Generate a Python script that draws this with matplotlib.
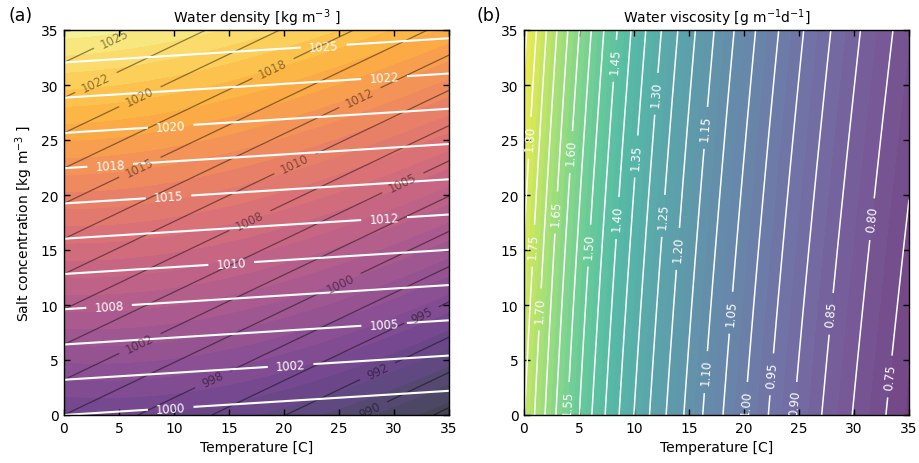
import numpy as np
import matplotlib
matplotlib.use('Agg')
import matplotlib.pyplot as plt
from matplotlib.colors import ListedColormap

# ---------------- data / model coefficients -------------
temp_limits = [0, 35]          # Temperature [C]
salt_limits = [0, 35]          # Salt concentration [kg m-3]
axis_ticks = [0, 5, 10, 15, 20, 25, 30, 35]

# filled density field (UNESCO-like equation of state)
rho_pure_coef = [999.842594, 6.793952e-2, -9.095290e-3, 1.001685e-4, -1.120083e-6, 6.536332e-9]
rho_salt_lin = [0.824493, -4.0899e-3, 7.6438e-5]
rho_salt_15 = [-5.72466e-3, 1.0227e-4, -1.6546e-6]
rho_salt_2 = 4.8314e-4

# white (linear) density model
white_rho0, white_dS, white_dT = 1000.0, 0.78, -0.049
# black (linear) density model
black_rho0, black_dS, black_dT = 1000.0, 0.78, -0.372

density_fill_levels = np.arange(992.5, 1030.01, 1.25)
density_line_levels = np.arange(987.5, 1030.01, 2.5)

white_label_levels = [1000, 1002.5, 1005, 1007.5, 1010, 1012.5, 1015, 1017.5, 1020, 1022.5, 1025]
white_label_temps = [9.7, 20.6, 29.1, 4.1, 15.2, 29.1, 9.5, 4.2, 9.7, 29.1, 23.6]

black_label_levels = [990, 992.5, 995, 997.5, 1000, 1002.5, 1005, 1007.5, 1010, 1012.5,
                      1015, 1017.5, 1020, 1022.5, 1025]
black_label_temps = [27.8, 28.5, 32.5, 13.5, 25.1, 6.9, 30.8, 16.9, 21.0, 26.9,
                     6.9, 19.0, 6.9, 2.9, 4.6]

# viscosity: Vogel pure water + salt factor
vogel_A, vogel_B, vogel_C = 2.414e-2, 247.8, 133.15
visc_salt_A = [1.541, 1.998e-2, -9.52e-5]
visc_salt_B = [7.974, -7.561e-2, 4.724e-4]

visc_fill_levels = np.arange(0.70, 1.9001, 0.025)
visc_line_levels = np.arange(0.70, 1.9001, 0.05)

visc_label_levels = [1.80, 1.75, 1.70, 1.65, 1.60, 1.55, 1.50, 1.45, 1.40, 1.35, 1.30,
                     1.25, 1.20, 1.15, 1.10, 1.05, 1.00, 0.95, 0.90, 0.85, 0.80, 0.75]
visc_label_salts = [25.2, 15.4, 9.6, 18.4, 23.9, 1.1, 15.4, 32.2, 17.9, 23.5, 29.2,
                    18.1, 15.1, 26.1, 3.9, 9.3, 1.1, 3.7, 1.1, 9.2, 17.8, 3.5]

fill_alpha = 0.75


# ---------------- fields --------------------------------------------------------
def rho_fill(T, S):
    rw = sum(c * T**i for i, c in enumerate(rho_pure_coef))
    b = sum(c * T**i for i, c in enumerate(rho_salt_lin))
    c15 = sum(c * T**i for i, c in enumerate(rho_salt_15))
    return rw + b * S + c15 * S**1.5 + rho_salt_2 * S**2


def rho_white(T, S):
    return white_rho0 + white_dS * S + white_dT * T


def rho_black(T, S):
    return black_rho0 + black_dS * S + black_dT * T


def viscosity(T, S):
    mu_w = vogel_A * 10 ** (vogel_B / (T + vogel_C))
    s = S / 1000.0
    A = sum(c * T**i for i, c in enumerate(visc_salt_A))
    B = sum(c * T**i for i, c in enumerate(visc_salt_B))
    return mu_w * (1 + A * s + B * s**2)


def faded(name, alpha):
    base = plt.get_cmap(name)(np.linspace(0, 1, 256))
    base[:, :3] = alpha * base[:, :3] + (1 - alpha)
    base[:, 3] = 1.0
    return ListedColormap(base)


t = np.linspace(temp_limits[0], temp_limits[1], 300)
s = np.linspace(salt_limits[0], salt_limits[1], 300)
TT, SS = np.meshgrid(t, s)


def salt_on_line(func, level, T):
    vals = func(T, s)
    return float(np.interp(level, vals, s))


def temp_on_line(func, level, S):
    vals = func(t, S)
    return float(np.interp(level, vals[::-1], t[::-1]))


# ---------------- figure --------------------------------------------------------
W, H = 919, 464
fig = plt.figure(figsize=(W / 100, H / 100), dpi=100)
ax1 = fig.add_axes([64 / W, 1 - 416 / H, 385 / W, 385 / H])
ax2 = fig.add_axes([524 / W, 1 - 416 / H, 385 / W, 385 / H])

# panel a
ax1.contourf(TT, SS, rho_fill(TT, SS), levels=density_fill_levels,
             cmap=faded('inferno', fill_alpha))
csb = ax1.contour(TT, SS, rho_black(TT, SS), levels=density_line_levels, colors='k',
                  linewidths=0.9, alpha=0.45)
csw = ax1.contour(TT, SS, rho_white(TT, SS), levels=density_line_levels, colors='w',
                  linewidths=1.5)
wpos = [(T, salt_on_line(rho_white, lv, T)) for lv, T in zip(white_label_levels, white_label_temps)]
bpos = [(T, salt_on_line(rho_black, lv, T)) for lv, T in zip(black_label_levels, black_label_temps)]
ax1.clabel(csw, fmt='%.0f', fontsize=8.5, manual=wpos, inline_spacing=8)
ax1.clabel(csb, fmt='%.0f', fontsize=8.5, manual=bpos, inline_spacing=8)

# panel b
ax2.contourf(TT, SS, viscosity(TT, SS), levels=visc_fill_levels,
             cmap=faded('viridis', fill_alpha))
csv = ax2.contour(TT, SS, viscosity(TT, SS), levels=visc_line_levels, colors='w',
                  linewidths=1.1)
vpos = [(temp_on_line(viscosity, lv, S), S) for lv, S in zip(visc_label_levels, visc_label_salts)]
ax2.clabel(csv, fmt='%.2f', fontsize=8.5, manual=vpos, inline_spacing=8)

for ax in (ax1, ax2):
    ax.set_xlim(temp_limits)
    ax.set_ylim(salt_limits)
    ax.set_xticks(axis_ticks)
    ax.set_yticks(axis_ticks)
    ax.tick_params(direction='in', top=True, right=True, length=4, width=1,
                   labelsize=10, pad=4)
    for sp in ax.spines.values():
        sp.set_linewidth(1.0)
    ax.set_xlabel('Temperature [C]', fontsize=10)

ax1.set_ylabel('Salt concentration [kg m$^{-3}$ ]', fontsize=10)
ax1.set_title('Water density [kg m$^{-3}$ ]', fontsize=10)
ax2.set_title('Water viscosity [g m$^{-1}$d$^{-1}$]', fontsize=10)

fig.text(8 / W, 1 - 16 / H, '(a)', fontsize=12.5, va='center', ha='left')
fig.text(477 / W, 1 - 16 / H, '(b)', fontsize=12.5, va='center', ha='left')

fig.savefig('out.png', dpi=100)
